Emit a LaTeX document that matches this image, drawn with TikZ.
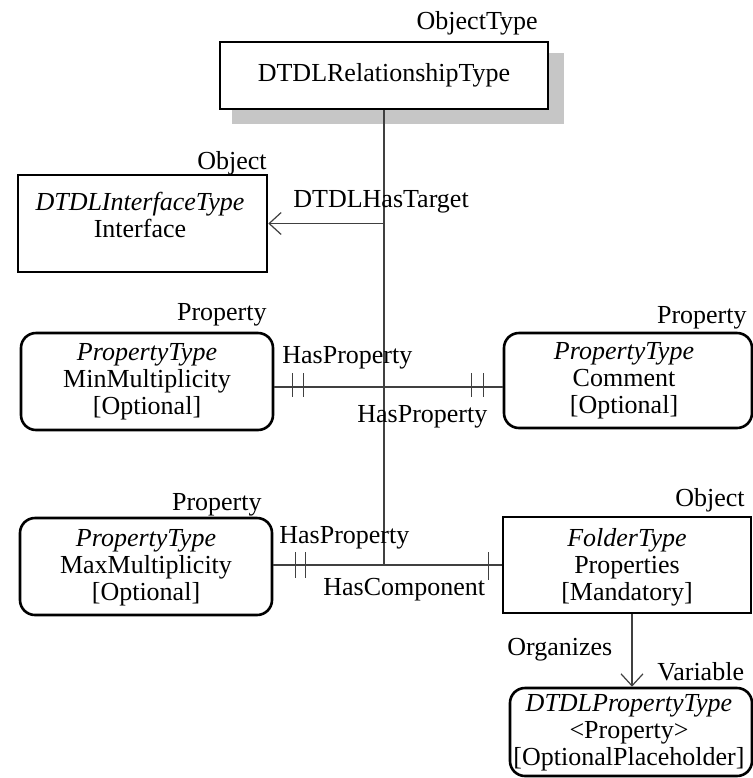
\documentclass[tikz,border=0pt]{standalone}
\usepackage{fontspec}
\setmainfont{Liberation Serif}
\usetikzlibrary{arrows.meta,backgrounds}
\begin{document}
\begin{tikzpicture}[x=0.5pt,y=-0.5pt,
  every node/.style={font=\fontsize{13}{13.6}\selectfont, inner sep=0pt, text=black},
  sqbox/.style={draw, line width=1.3pt, fill=white, rectangle},
  rbox/.style={draw, line width=1.3pt, fill=white, rectangle, rounded corners=7.5pt},
  txt/.style={align=center},
  conn/.style={line width=0.6pt, draw=black!75},
  open/.style={conn, -{Straight Barb[length=6pt,width=11pt,line width=0.6pt]}},
  bar/.style={line width=0.6pt, draw=black!75}]
\useasboundingbox (0,0) rectangle (752,778);

% boxes
\node[sqbox, minimum width=164pt, minimum height=33.5pt] (top) at (384,75.5) {};
\node[txt] (topT) at (top.center) {DTDLRelationshipType};
\node[anchor=east] (topL) at (538,23) {ObjectType};

\node[sqbox, minimum width=124.5pt, minimum height=48.5pt] (iface) at (142.5,223.5) {};
\node[txt] (ifaceT) at (140,215) {\textit{DTDLInterfaceType}\\Interface};
\node[anchor=east] (ifaceL) at (267,163) {Object};

\node[rbox, minimum width=126pt, minimum height=48.5pt] (minm) at (147,381.5) {};
\node[txt] (minmT) at (147,381.5) {\textit{PropertyType}\\MinMultiplicity\\{[Optional]}};
\node[anchor=east] (minmL) at (267,315) {Property};

\node[rbox, minimum width=124pt, minimum height=47.5pt] (comm) at (628,380.5) {};
\node[txt] (commT) at (624,381) {\textit{PropertyType}\\Comment\\{[Optional]}};
\node[anchor=east] (commL) at (747,318) {Property};

\node[rbox, minimum width=126pt, minimum height=48.5pt] (maxm) at (146,566.5) {};
\node[txt] (maxmT) at (146,568) {\textit{PropertyType}\\MaxMultiplicity\\{[Optional]}};
\node[anchor=east] (maxmL) at (262,505) {Property};

\node[sqbox, minimum width=124pt, minimum height=48pt] (props) at (627,565) {};
\node[txt] (propsT) at (627,567) {\textit{FolderType}\\Properties\\{[Mandatory]}};
\node[anchor=east] (propsL) at (745,500) {Object};

\node[rbox, minimum width=121pt, minimum height=44pt] (var) at (631,732) {};
\node[txt] (varT) at (629,733) {\textit{DTDLPropertyType}\\{<}Property{>}\\{[OptionalPlaceholder]}};
\node[anchor=west] (varL) at (657,672) {Variable};

% shadow
\begin{scope}[on background layer]
  \fill[gray!45] ([shift={(13,14)}]top.south west) rectangle ([shift={(15,12)}]top.north east);
\end{scope}

% connectors
\coordinate (j1) at (top.south |- iface.east);
\coordinate (j2) at (top.south |- props.west);
\draw[conn] (top.south) -- (j2);
\draw[open] (j1) -- (iface.east);
\node[anchor=west] (lTarget) at (293,202) {DTDLHasTarget};

\path (minm.east) ++(0,5.5) coordinate (m1);
\coordinate (c1) at (comm.west |- m1);
\draw[conn] (m1) -- (c1);
\draw[bar] (m1) ++(18,-14) -- ++(0,24);
\draw[bar] (m1) ++(29,-14) -- ++(0,24);
\draw[bar] (c1) ++(-31,-14) -- ++(0,24);
\draw[bar] (c1) ++(-19,-14) -- ++(0,24);
\node[anchor=west] (lHP1) at (282,358) {HasProperty};
\node[anchor=west] (lHP2) at (357,417) {HasProperty};

\coordinate (m2) at (maxm.east |- props.west);
\draw[conn] (m2) -- (props.west);
\draw[bar] (m2) ++(22,-13) -- ++(0,26);
\draw[bar] (m2) ++(32,-13) -- ++(0,26);
\draw[bar] (props.west) ++(-13,-13) -- ++(0,28);
\node[anchor=west] (lHP3) at (279,538) {HasProperty};
\node[anchor=west] (lHC) at (323,590) {HasComponent};

\coordinate (p1) at ([xshift=2.5pt]props.south);
\draw[open] (p1) -- (p1 |- var.north);
\node[anchor=west] (lOrg) at (507,650) {Organizes};
\end{tikzpicture}
\end{document}
